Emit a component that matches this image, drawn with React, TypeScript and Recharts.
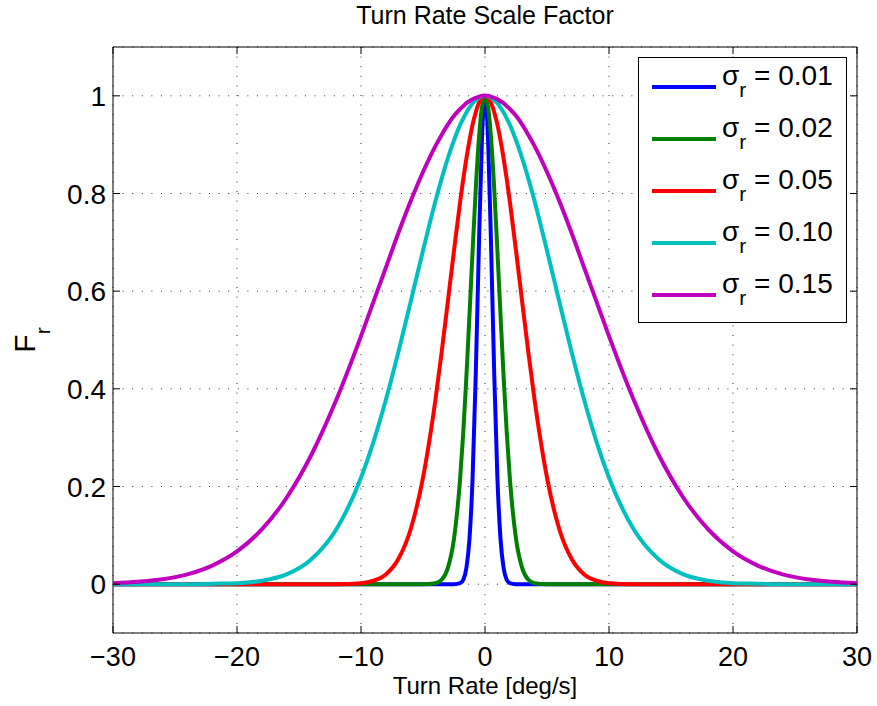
import React from "react";
import {
  LineChart,
  Line,
  XAxis,
  YAxis,
  CartesianGrid,
  ReferenceArea,
  Legend,
} from "recharts";

// turn rate samples (deg/s), positive half; curves are symmetric about 0
const halfRate = [0, 0.25, 0.5, 0.75, 1, 1.25, 1.5, 1.75, 2, 2.5, 3, 3.5, 4, 5, 6, 7, 8, 9, 10, 12, 14, 16, 18, 20, 22, 24, 26, 28, 30];

const sigma001 = [1, 0.909, 0.683, 0.425, 0.218, 0.093, 0.033, 0.009, 0.002, 0, 0, 0, 0, 0, 0, 0, 0, 0, 0, 0, 0, 0, 0, 0, 0, 0, 0, 0, 0];
const sigma002 = [1, 0.976, 0.909, 0.807, 0.683, 0.552, 0.425, 0.312, 0.218, 0.093, 0.033, 0.009, 0.002, 0, 0, 0, 0, 0, 0, 0, 0, 0, 0, 0, 0, 0, 0, 0, 0];
const sigma005 = [1, 0.996, 0.985, 0.966, 0.941, 0.909, 0.872, 0.83, 0.784, 0.683, 0.578, 0.474, 0.377, 0.218, 0.112, 0.051, 0.02, 0.007, 0.002, 0, 0, 0, 0, 0, 0, 0, 0, 0, 0];
const sigma010 = [1, 0.999, 0.996, 0.991, 0.985, 0.976, 0.966, 0.954, 0.941, 0.909, 0.872, 0.83, 0.784, 0.683, 0.578, 0.474, 0.377, 0.291, 0.218, 0.112, 0.051, 0.02, 0.007, 0.002, 0.001, 0, 0, 0, 0];
const sigma015 = [1, 1, 0.998, 0.996, 0.993, 0.989, 0.985, 0.979, 0.973, 0.959, 0.941, 0.92, 0.897, 0.844, 0.784, 0.718, 0.648, 0.578, 0.508, 0.377, 0.265, 0.177, 0.112, 0.067, 0.038, 0.02, 0.01, 0.005, 0.002];

const seriesNames = ["0.01", "0.02", "0.05", "0.10", "0.15"];
const seriesValues = [sigma001, sigma002, sigma005, sigma010, sigma015];
const seriesColors = ["#0000ff", "#008000", "#ff0000", "#00bfbf", "#bf00bf"];

const xTicks = [-30, -20, -10, 0, 10, 20, 30];
const yTicks = [0, 0.2, 0.4, 0.6, 0.8, 1];

// mirror the half curves into one table
const rows: any[] = [];
for (let i = halfRate.length - 1; i >= 0; i--) {
  if (i === 0) continue;
  const r: any = { rate: -halfRate[i] };
  seriesValues.forEach((s, k) => (r["s" + k] = s[i]));
  rows.push(r);
}
for (let i = 0; i < halfRate.length; i++) {
  const r: any = { rate: halfRate[i] };
  seriesValues.forEach((s, k) => (r["s" + k] = s[i]));
  rows.push(r);
}

const FONT = '"Liberation Sans", Arial, Helvetica, sans-serif';
const PLOT_TOP = 47;
const PLOT_RIGHT = 857;

function XTick({ x, y, payload }: any) {
  const v = payload.value;
  const label = v < 0 ? "\u2212" + Math.abs(v) : String(v);
  return (
    <g>
      <line x1={x} x2={x} y1={y} y2={y - 7} stroke="#000" />
      <line x1={x} x2={x} y1={PLOT_TOP} y2={PLOT_TOP + 7} stroke="#000" />
      <text x={x} y={y + 33} textAnchor="middle" fontSize={27} fontFamily={FONT} fill="#000">
        {label}
      </text>
    </g>
  );
}

function YTick({ x, y, payload }: any) {
  return (
    <g>
      <line x1={x} x2={x + 7} y1={y} y2={y} stroke="#000" />
      <line x1={PLOT_RIGHT} x2={PLOT_RIGHT - 7} y1={y} y2={y} stroke="#000" />
      <text x={x - 7} y={y + 10} textAnchor="end" fontSize={28} fontFamily={FONT} fill="#000">
        {String(payload.value)}
      </text>
    </g>
  );
}

function YLabel({ viewBox }: any) {
  const cy = viewBox.y + viewBox.height / 2;
  return (
    <text transform={`translate(35,${cy}) rotate(-90)`} textAnchor="middle" fontSize={30} fontFamily={FONT} fill="#000">
      F
      <tspan fontSize={21} dy={15}>r</tspan>
    </text>
  );
}

function SigmaLegend({ payload }: any) {
  return (
    <div style={{ width: 209, height: 266, boxSizing: "border-box", border: "1px solid #000", background: "#fff", position: "relative", fontFamily: FONT }}>
      {(payload || []).map((entry: any, i: number) => (
        <div key={i} style={{ position: "absolute", left: 0, top: i * 52, width: "100%", height: 52 }}>
          <div style={{ position: "absolute", left: 13, top: 27, width: 64, height: 4, background: entry.color }} />
          <span style={{ position: "absolute", left: 83, top: 4, fontSize: 28, lineHeight: "28px", whiteSpace: "nowrap", color: "#000" }}>
            σ<span style={{ fontSize: 21, position: "relative", top: 12 }}>r</span> = {entry.value}
          </span>
        </div>
      ))}
    </div>
  );
}

export default function App() {
  return (
    <div style={{ position: "absolute", left: 0, top: 0, width: 877, height: 706, background: "#fff", fontFamily: FONT }}>
      <div style={{ position: "absolute", left: 113, top: 3, width: 744, textAlign: "center", fontSize: 25, lineHeight: "25px", color: "#000" }}>
        Turn Rate Scale Factor
      </div>
      <LineChart width={877} height={706} data={rows} margin={{ top: 47, right: 20, bottom: 0, left: 0 }}>
        <CartesianGrid stroke="#333" strokeDasharray="1 8.6" />
        <XAxis
          dataKey="rate"
          type="number"
          domain={[-30, 30]}
          ticks={xTicks}
          height={73}
          tickSize={0}
          tickMargin={0}
          tickLine={false}
          axisLine={false}
          tick={<XTick />}
          interval={0}
          label={{ value: "Turn Rate [deg/s]", position: "insideBottom", offset: 12, fontSize: 24, fontFamily: FONT, fill: "#000" }}
        />
        <YAxis
          type="number"
          domain={[-0.1, 1.1]}
          ticks={yTicks}
          width={113}
          tickSize={0}
          tickMargin={0}
          tickLine={false}
          axisLine={false}
          tick={<YTick />}
          interval={0}
          label={{ content: <YLabel /> }}
        />
        <ReferenceArea x1={-30} x2={30} y1={-0.1} y2={1.1} fill="none" stroke="#000" strokeWidth={1} />
        {seriesNames.map((name, k) => (
          <Line
            key={name}
            type="monotone"
            dataKey={"s" + k}
            name={name}
            stroke={seriesColors[k]}
            strokeWidth={4}
            dot={false}
            isAnimationActive={false}
          />
        ))}
        <Legend
          layout="vertical"
          align="center"
          verticalAlign="middle"
          wrapperStyle={{ left: 638, top: 57, width: 209, height: 266 }}
          content={<SigmaLegend />}
        />
      </LineChart>
    </div>
  );
}
